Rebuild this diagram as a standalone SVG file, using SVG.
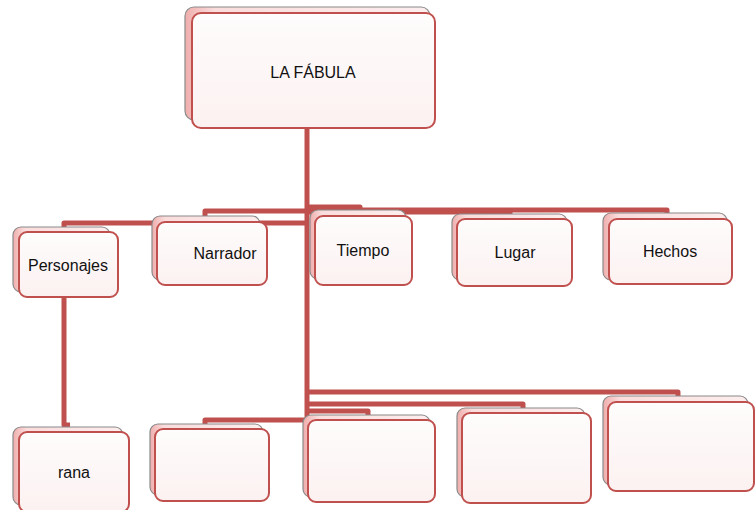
<svg xmlns="http://www.w3.org/2000/svg" width="755" height="510" viewBox="0 0 755 510">
<defs>
<linearGradient id="gBack" x1="0" y1="0" x2="1" y2="0">
<stop offset="0" stop-color="#efaeac"/>
<stop offset="0.12" stop-color="#fadcdc"/>
<stop offset="1" stop-color="#fdeeee"/>
</linearGradient>
<linearGradient id="gFront" x1="0" y1="0" x2="0" y2="1">
<stop offset="0" stop-color="#fefcfc"/>
<stop offset="1" stop-color="#fcf1f1"/>
</linearGradient>
</defs>
<style>
.back{fill:url(#gBack);stroke:#8a8a8a;stroke-width:1.2}
.front{fill:url(#gFront);stroke:#c0504d;stroke-width:2}
.lbl{font-family:"Liberation Sans",Arial,sans-serif;font-size:16px;fill:#111;text-anchor:middle;dominant-baseline:central}
.con{fill:none;stroke:#c0504d;stroke-width:5;stroke-linejoin:round}
</style>
<rect width="755" height="510" fill="#ffffff"/>
<g id="connectors">
<path class="con" d="M307,127 V420"/>
<path class="con" d="M307,223 H64 V233"/>
<path class="con" d="M307,211 H205 V217"/>
<path class="con" d="M307,207 H360 V211"/>
<path class="con" d="M307,212 H510 V215"/>
<path class="con" d="M307,210 H667 V214"/>
<path class="con" d="M64,298 V425 H70"/>
<path class="con" d="M307,392 H678 V397"/>
<path class="con" d="M307,404 H523 V409"/>
<path class="con" d="M307,411 H368 V416"/>
<path class="con" d="M307,420 H205 V425"/>
</g>
<g id="n-fabula">
<rect class="back" x="185" y="7" width="245" height="113" rx="9"/>
<rect class="front" x="192" y="13" width="243" height="115" rx="9"/>
<text class="lbl" x="313" y="72">LA FÁBULA</text>
</g>
<g id="n-personajes">
<rect class="back" x="13" y="227" width="97" height="65" rx="8"/>
<rect class="front" x="19" y="232" width="99" height="65" rx="8"/>
<text class="lbl" x="68" y="265">Personajes</text>
</g>
<g id="n-narrador">
<rect class="back" x="152" y="216" width="108" height="64" rx="8"/>
<rect class="front" x="157" y="222" width="110" height="63" rx="8"/>
<text class="lbl" x="225" y="253">Narrador</text>
</g>
<g id="n-tiempo">
<rect class="back" x="310" y="210" width="96" height="69" rx="8"/>
<rect class="front" x="315" y="216" width="97" height="69" rx="8"/>
<text class="lbl" x="363" y="250">Tiempo</text>
</g>
<g id="n-lugar">
<rect class="back" x="452" y="214" width="115" height="66" rx="8"/>
<rect class="front" x="457" y="219" width="115" height="67" rx="8"/>
<text class="lbl" x="515" y="252">Lugar</text>
</g>
<g id="n-hechos">
<rect class="back" x="603" y="213" width="124" height="67" rx="8"/>
<rect class="front" x="609" y="219" width="123" height="65" rx="8"/>
<text class="lbl" x="670" y="251">Hechos</text>
</g>
<g id="n-rana">
<rect class="back" x="13" y="427" width="110" height="78" rx="8"/>
<rect class="front" x="19" y="432" width="110" height="80" rx="8"/>
<text class="lbl" x="74" y="472">rana</text>
</g>
<g id="n-empty1">
<rect class="back" x="150" y="424" width="113" height="71" rx="8"/>
<rect class="front" x="155" y="429" width="114" height="72" rx="8"/>
</g>
<g id="n-empty2">
<rect class="back" x="303" y="415" width="127" height="82" rx="8"/>
<rect class="front" x="308" y="420" width="127" height="82" rx="8"/>
</g>
<g id="n-empty3">
<rect class="back" x="457" y="408" width="128" height="89" rx="8"/>
<rect class="front" x="462" y="413" width="129" height="90" rx="8"/>
</g>
<g id="n-empty4">
<rect class="back" x="603" y="396" width="145" height="89" rx="8"/>
<rect class="front" x="608" y="402" width="146" height="89" rx="8"/>
</g>
</svg>
